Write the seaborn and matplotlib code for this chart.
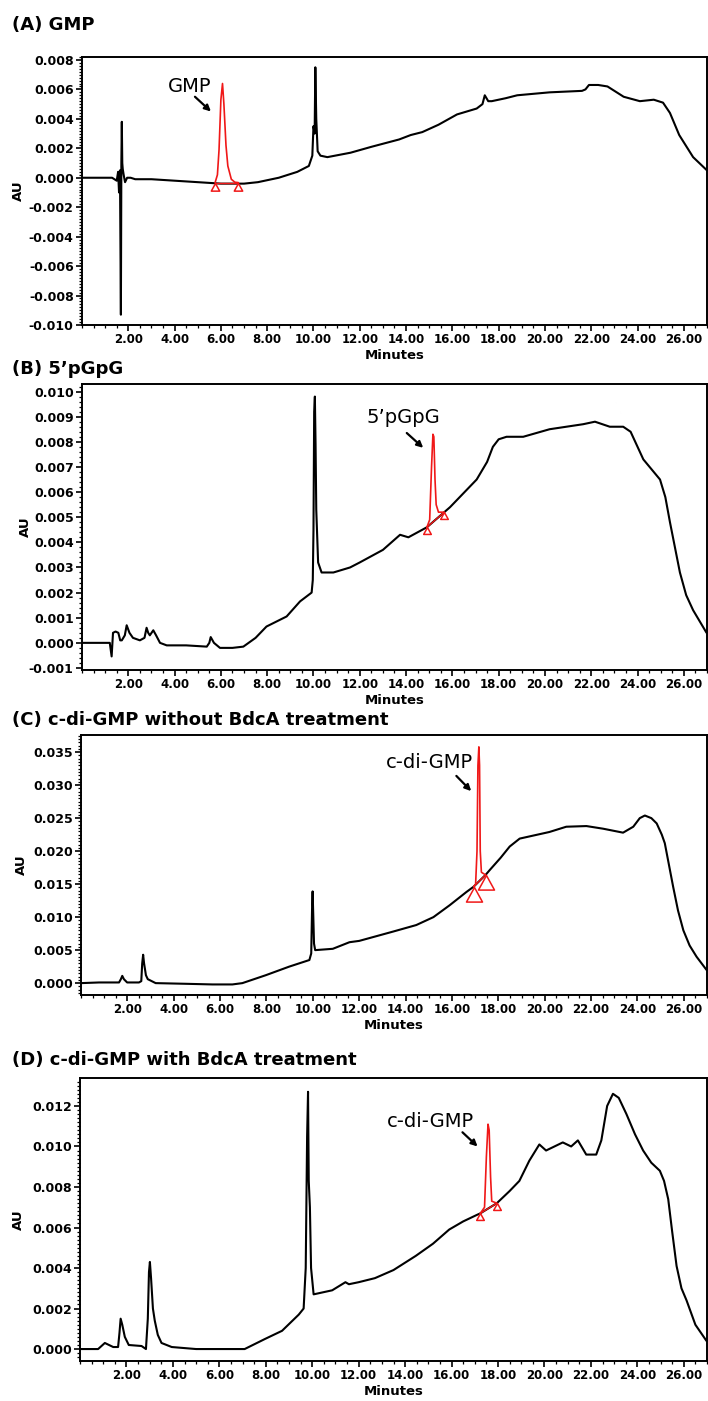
import matplotlib
matplotlib.use("Agg")
import matplotlib.pyplot as plt
from matplotlib.ticker import MultipleLocator, FormatStrFormatter, AutoMinorLocator
import seaborn as sns
import numpy as np

sns.set_style("ticks")
plt.rcParams['font.family'] = ['DejaVu Sans']
plt.rcParams['text.color'] = 'black'
plt.rcParams['axes.labelcolor'] = 'black'
plt.rcParams['xtick.color'] = 'black'
plt.rcParams['ytick.color'] = 'black'

# ---------------- data (time in minutes, absorbance in AU) ----------------
titles = ["(A) GMP", "(B) 5\u2019pGpG", "(C) c-di-GMP without BdcA treatment",
          "(D) c-di-GMP with BdcA treatment"]
peak_labels = ["GMP", "5\u2019pGpG", "c-di-GMP", "c-di-GMP"]

trace_A = [(0.0, 0.0), (1.3, 0.0), (1.5, -0.0002), (1.56, 0.0004), (1.6, -0.0010),
           (1.64, 0.0005), (1.68, -0.0093), (1.70, 0.0010), (1.72, 0.0038), (1.74, 0.0010),
           (1.76, 0.0006), (1.80, 0.0002), (1.86, -0.0003), (1.95, 0.0), (2.1, 0.0),
           (2.3, -0.0001), (3.0, -0.0001), (4.0, -0.0002), (5.0, -0.0003), (6.0, -0.0004),
           (7.0, -0.0004), (7.6, -0.0003), (8.5, 0.0), (9.3, 0.0004), (9.8, 0.0008),
           (9.95, 0.0015), (10.0, 0.0035), (10.05, 0.0030), (10.08, 0.0075), (10.12, 0.0040),
           (10.18, 0.0018), (10.3, 0.0015), (10.6, 0.0014), (11.6, 0.0017), (12.5, 0.0021),
           (13.7, 0.0026), (14.2, 0.0029), (14.7, 0.0031), (15.4, 0.0036), (16.2, 0.0043),
           (17.05, 0.0047), (17.3, 0.0050), (17.4, 0.0056), (17.55, 0.0052), (17.7, 0.0052),
           (18.3, 0.0054), (18.8, 0.0056), (20.2, 0.0058), (21.6, 0.0059), (21.75, 0.0060),
           (21.9, 0.0063), (22.3, 0.0063), (22.7, 0.0062), (23.1, 0.0058), (23.4, 0.0055),
           (24.1, 0.0052), (24.7, 0.0053), (25.1, 0.0051), (25.4, 0.0044), (25.8, 0.0029),
           (26.4, 0.0014), (27.0, 0.0005)]
peak_A = [(5.75, -0.00033), (5.85, 0.0002), (5.92, 0.0019), (6.0, 0.0053), (6.07, 0.0064),
          (6.13, 0.0050), (6.22, 0.0022), (6.3, 0.0008), (6.45, -0.0001), (6.6, -0.0003),
          (6.75, -0.00033)]
base_A = [(5.75, -0.00033), (6.75, -0.00033)]

trace_B = [(0.0, 0.0), (1.0, 0.0), (1.2, 0.0), (1.28, -0.00054), (1.34, 0.0004),
           (1.45, 0.00045), (1.57, 0.0004), (1.65, 0.0001), (1.72, 0.0001), (1.85, 0.0003),
           (1.93, 0.0007), (2.05, 0.0004), (2.2, 0.0002), (2.5, 0.0001), (2.7, 0.0002),
           (2.79, 0.0006), (2.86, 0.0004), (2.93, 0.0003), (3.08, 0.0005), (3.2, 0.0003),
           (3.37, 0.0), (3.66, -0.0001), (4.5, -0.0001), (5.39, -0.00015), (5.5, 0.0),
           (5.56, 0.00023), (5.7, 0.0), (5.96, -0.0002), (6.5, -0.0002), (6.97, -0.00015),
           (7.5, 0.0002), (7.97, 0.00065), (8.84, 0.00105), (9.42, 0.00165), (9.92, 0.0020),
           (9.97, 0.0025), (10.0, 0.0045), (10.03, 0.0092), (10.06, 0.0098), (10.09, 0.0079),
           (10.12, 0.0053), (10.2, 0.0032), (10.35, 0.0028), (10.86, 0.0028), (11.58, 0.0030),
           (12.0, 0.0032), (13.0, 0.0037), (13.74, 0.0043), (14.1, 0.0042), (14.9, 0.0046),
           (15.9, 0.0054), (17.05, 0.0065), (17.5, 0.0072), (17.75, 0.0078), (18.0, 0.0081),
           (18.34, 0.0082), (19.06, 0.0082), (20.2, 0.0085), (21.65, 0.0087), (22.16, 0.0088),
           (22.8, 0.0086), (23.38, 0.0086), (23.7, 0.0084), (24.0, 0.0078), (24.25, 0.0073),
           (24.97, 0.0065), (25.2, 0.0058), (25.4, 0.0048), (25.83, 0.0028), (26.1, 0.0019),
           (26.4, 0.0013), (26.98, 0.0004)]
peak_B = [(14.9, 0.0046), (15.02, 0.0049), (15.1, 0.0070), (15.16, 0.0083), (15.2, 0.0082),
          (15.25, 0.0065), (15.3, 0.0055), (15.4, 0.0052), (15.65, 0.0052)]
base_B = [(14.9, 0.0046), (15.65, 0.0052)]

trace_C = [(0.0, 0.0), (0.78, 0.0001), (1.64, 0.0001), (1.72, 0.0006), (1.78, 0.0011),
           (1.85, 0.0006), (1.99, 0.0001), (2.5, 0.0001), (2.6, 0.0003), (2.64, 0.0030),
           (2.68, 0.0043), (2.72, 0.0030), (2.8, 0.0012), (2.88, 0.0006), (3.22, 0.0),
           (4.5, -0.0001), (5.67, -0.0002), (6.53, -0.0002), (6.96, 0.0), (7.97, 0.0012),
           (8.98, 0.0025), (9.85, 0.0035), (9.93, 0.0045), (9.97, 0.0120), (9.99, 0.0139),
           (10.02, 0.0100), (10.05, 0.0060), (10.1, 0.0050), (10.86, 0.0052), (11.58, 0.0062),
           (12.0, 0.0064), (13.45, 0.0078), (14.46, 0.0088), (15.2, 0.0100), (15.9, 0.0118),
           (16.62, 0.0138), (16.93, 0.0146), (17.45, 0.0164), (17.62, 0.0171), (18.1, 0.0190),
           (18.49, 0.0207), (18.92, 0.0219), (20.2, 0.0229), (20.93, 0.0237), (21.8, 0.0238),
           (22.52, 0.0234), (23.38, 0.0228), (23.82, 0.0237), (24.1, 0.0250), (24.32, 0.0254),
           (24.6, 0.0250), (24.83, 0.0242), (25.05, 0.0225), (25.18, 0.0212), (25.54, 0.0146),
           (25.75, 0.0110), (25.98, 0.0080), (26.25, 0.0057), (26.55, 0.0040), (26.98, 0.0020)]
peak_C = [(16.93, 0.0146), (17.02, 0.0150), (17.08, 0.0200), (17.12, 0.0330), (17.16, 0.0358),
          (17.19, 0.0330), (17.22, 0.0200), (17.27, 0.0168), (17.45, 0.0164)]
base_C = [(16.93, 0.0146), (17.45, 0.0164)]

trace_D = [(0.0, 0.0), (0.78, 0.0), (1.07, 0.0003), (1.43, 0.0001), (1.64, 0.0001),
           (1.7, 0.0008), (1.75, 0.0015), (1.82, 0.0012), (1.93, 0.0006), (2.1, 0.0002),
           (2.65, 0.00015), (2.84, 0.0), (2.92, 0.0015), (2.97, 0.0038), (3.01, 0.0043),
           (3.06, 0.0035), (3.14, 0.0020), (3.22, 0.0014), (3.35, 0.0007), (3.51, 0.0003),
           (3.95, 0.0001), (5.0, 0.0), (6.53, 0.0), (7.09, 0.0), (7.97, 0.0005),
           (8.7, 0.0009), (9.42, 0.0017), (9.63, 0.0020), (9.72, 0.0040), (9.78, 0.0105),
           (9.82, 0.0127), (9.85, 0.0083), (9.9, 0.0070), (9.95, 0.0040), (10.06, 0.0027),
           (10.86, 0.0029), (11.43, 0.0033), (11.58, 0.0032), (12.0, 0.0033), (12.7, 0.0035),
           (13.5, 0.0039), (14.46, 0.0046), (15.2, 0.0052), (15.9, 0.0059), (16.5, 0.0063),
           (17.05, 0.0066), (17.24, 0.0067), (17.95, 0.0072), (18.5, 0.0078), (18.92, 0.0083),
           (19.35, 0.0093), (19.78, 0.0101), (20.07, 0.0098), (20.79, 0.0102), (21.15, 0.0100),
           (21.44, 0.0103), (21.8, 0.0096), (22.23, 0.0096), (22.45, 0.0103), (22.7, 0.0120),
           (22.95, 0.0126), (23.2, 0.0124), (23.53, 0.0116), (23.9, 0.0106), (24.25, 0.0098),
           (24.6, 0.0092), (24.97, 0.0088), (25.15, 0.0083), (25.33, 0.0074), (25.5, 0.0058),
           (25.69, 0.0041), (25.9, 0.0030), (26.12, 0.0024), (26.5, 0.0012), (26.98, 0.0004)]
peak_D = [(17.24, 0.0067), (17.42, 0.0070), (17.5, 0.0095), (17.57, 0.0111), (17.62, 0.0108),
          (17.68, 0.0085), (17.73, 0.0073), (17.95, 0.0072)]
base_D = [(17.24, 0.0067), (17.95, 0.0072)]

# label text centre and arrow (tail, head) per panel
label_pos = [(4.67, 0.0062), (13.9, 0.00895), (15.03, 0.0334), (15.1, 0.01122)]
arrow_tail = [(4.88, 0.0055), (14.03, 0.00835), (16.19, 0.0314), (16.47, 0.0107)]
arrow_head = [(5.57, 0.0045), (14.74, 0.00776), (16.83, 0.0291), (17.12, 0.0100)]

y_limits = [(-0.0100, 0.0082), (-0.00108, 0.0103), (-0.0018, 0.0376), (-0.00059, 0.01338)]
y_steps = [0.002, 0.001, 0.005, 0.002]
y_minor = [10, 5, 10, 10]
x_limits = (0, 27)
x_major = 2.0
x_minor = 0.5

traces = [trace_A, trace_B, trace_C, trace_D]
peaks = [peak_A, peak_B, peak_C, peak_D]
bases = [base_A, base_B, base_C, base_D]

# ---------------- layout (figure fractions) ----------------
W, H = 708, 1401
axes_px = [(82, 57, 707, 325), (82, 384, 707, 670), (81, 735, 707, 995), (80, 1078, 707, 1361)]
title_y = [25, 369, 720, 1060]
ylabel_x = [-0.092, -0.080, -0.085, -0.088]
marker_sizes = [11, 10, 21, 10]
red = '#f01818'

fig = plt.figure(figsize=(W / 100, H / 100), dpi=100)
tri = [(0, 0), (-0.55, -1), (0.55, -1), (0, 0)]

for i in range(4):
    l, t, r, b = axes_px[i]
    ax = fig.add_axes([l / W, 1 - b / H, (r - l) / W, (b - t) / H])
    tx, ty = zip(*traces[i])
    sns.lineplot(x=list(tx), y=list(ty), ax=ax, color='black', linewidth=1.5,
                 sort=False, estimator=None)
    px, py = zip(*peaks[i])
    sns.lineplot(x=list(px), y=list(py), ax=ax, color=red, linewidth=1.2,
                 sort=False, estimator=None)
    bx, by = zip(*bases[i])
    sns.lineplot(x=list(bx), y=list(by), ax=ax, color=red, linewidth=1.0,
                 sort=False, estimator=None, marker=tri, markersize=marker_sizes[i],
                 markerfacecolor='none', markeredgecolor=red, markeredgewidth=1.1)

    ax.text(label_pos[i][0], label_pos[i][1], peak_labels[i], ha='center', va='center',
            fontsize=14, color='black')
    ax.annotate('', xy=arrow_head[i], xytext=arrow_tail[i],
                arrowprops=dict(arrowstyle='-|>', color='black', lw=1.6,
                                mutation_scale=9, shrinkA=0, shrinkB=0))

    ax.set_xlim(*x_limits)
    ax.set_ylim(*y_limits[i])
    ax.xaxis.set_major_locator(MultipleLocator(x_major))
    ax.xaxis.set_minor_locator(MultipleLocator(x_minor))
    ax.xaxis.set_major_formatter(FormatStrFormatter('%.2f'))
    ax.yaxis.set_major_locator(MultipleLocator(y_steps[i]))
    ax.yaxis.set_minor_locator(AutoMinorLocator(y_minor[i]))
    ax.yaxis.set_major_formatter(FormatStrFormatter('%.3f'))
    xt = [v for v in np.arange(x_major, x_limits[1] + 0.01, x_major)]
    ax.set_xticks(xt)

    ax.tick_params(axis='both', which='major', direction='out', length=4, width=1.2,
                   color='black', labelcolor='black', pad=2)
    ax.tick_params(axis='both', which='minor', direction='out', length=2, width=0.9,
                   color='black')
    ax.tick_params(axis='x', labelsize=8.5)
    ax.tick_params(axis='y', labelsize=9)
    for lab in ax.get_xticklabels() + ax.get_yticklabels():
        lab.set_fontweight('bold')

    for s in ax.spines.values():
        s.set_visible(True)
        s.set_linewidth(1.4)
        s.set_color('black')

    ax.set_xlabel('Minutes', fontsize=9.5, fontweight='bold', labelpad=2, color='black')
    ax.set_ylabel('AU', fontsize=9.5, fontweight='bold', color='black')
    ax.yaxis.set_label_coords(ylabel_x[i], 0.5)

    fig.text(12 / W, 1 - title_y[i] / H, titles[i], fontsize=13, fontweight='bold',
             ha='left', va='center', color='black')

fig.savefig('out.png', dpi=100)
